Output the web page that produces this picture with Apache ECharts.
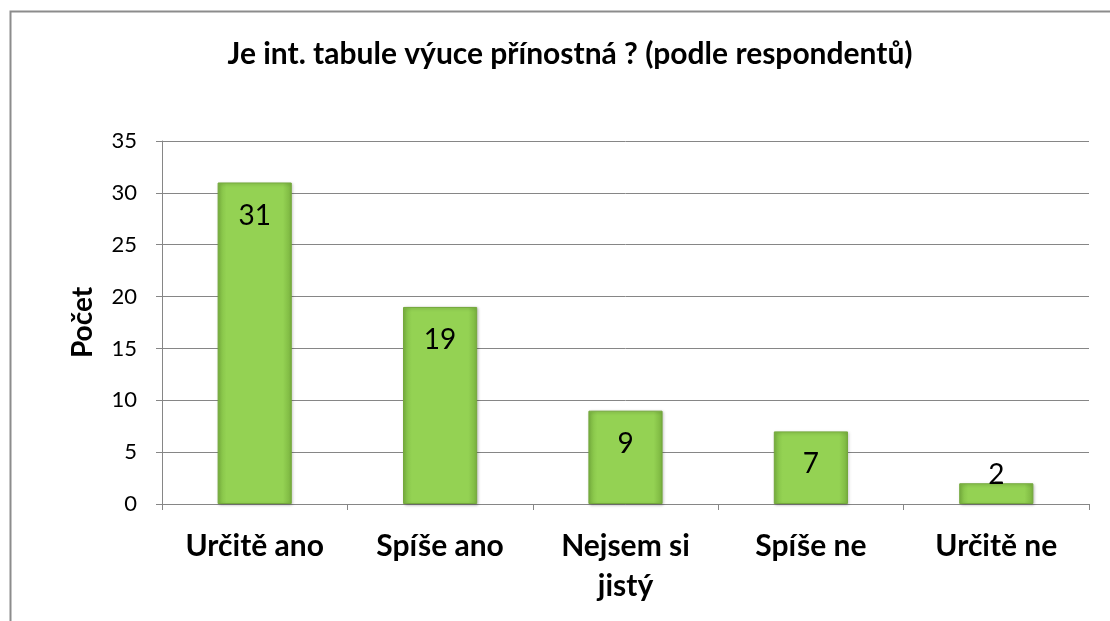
<!DOCTYPE html>
<html>
<head>
<meta charset="utf-8">
<script src="https://cdn.jsdelivr.net/npm/echarts@6/dist/echarts.min.js"></script>
<style>
  html, body { margin: 0; padding: 0; background: #fff; }
  #chart { width: 1110px; height: 621px; }
</style>
</head>
<body>
<div id="chart"></div>
<script>
var categories = ['Určitě ano', 'Spíše ano', 'Nejsem si\njistý', 'Spíše ne', 'Určitě ne'];
var counts = [31, 19, 9, 7, 2];
var yTicks = [0, 5, 10, 15, 20, 25, 30, 35];

var chart = echarts.init(document.getElementById('chart'));

var barColor = new echarts.graphic.LinearGradient(0, 0, 1, 0, [
  { offset: 0, color: '#7fbb43' },
  { offset: 0.12, color: '#94d253' },
  { offset: 0.88, color: '#94d253' },
  { offset: 1, color: '#7ab33f' }
]);

// short bars: put the label just above the bar like Excel does
var barData = counts.map(function (v) {
  if (v < 4) {
    return { value: v, label: { position: 'top', distance: -6 } };
  }
  return v;
});

var option = {
  animation: false,
  textStyle: { fontFamily: 'Lato' },
  title: {
    text: 'Je int. tabule výuce přínostná ? (podle respondentů)',
    left: 565,
    top: 34,
    textAlign: 'center',
    textStyle: { fontFamily: 'Lato', fontSize: 30, fontWeight: 'bold', color: '#000' }
  },
  graphic: [{
    type: 'rect',
    left: 8,
    top: 9,
    shape: { width: 1200, height: 700 },
    style: { fill: 'none', stroke: '#8c8c8c', lineWidth: 2 },
    silent: true
  }],
  grid: { left: 162, right: 21, top: 141, bottom: 117 },
  xAxis: {
    type: 'category',
    data: categories,
    axisLine: { lineStyle: { color: '#868686', width: 1 } },
    axisTick: { show: true, length: 6, lineStyle: { color: '#868686' } },
    axisLabel: {
      margin: 22,
      fontSize: 30,
      fontWeight: 'bold',
      lineHeight: 40,
      color: '#000',
      fontFamily: 'Lato'
    }
  },
  yAxis: {
    type: 'value',
    min: yTicks[0],
    max: yTicks[yTicks.length - 1],
    interval: 5,
    name: 'Počet',
    nameLocation: 'middle',
    nameRotate: 90,
    nameGap: 65,
    nameTextStyle: { fontSize: 28, fontWeight: 'bold', color: '#000', fontFamily: 'Lato' },
    axisLine: { show: true, lineStyle: { color: '#868686' } },
    axisTick: { show: true, length: 6, lineStyle: { color: '#868686' } },
    axisLabel: { margin: 25, fontSize: 22, color: '#000', fontFamily: 'Lato' },
    splitLine: { lineStyle: { color: '#868686', width: 1 } }
  },
  series: [{
    type: 'bar',
    data: barData,
    barCategoryGap: '60%',
    itemStyle: {
      color: barColor,
      borderColor: '#74a83c',
      borderWidth: 1,
      shadowColor: 'rgba(0,0,0,0.25)',
      shadowBlur: 3,
      shadowOffsetX: 1,
      shadowOffsetY: 1
    },
    label: {
      show: true,
      position: 'insideTop',
      distance: 19,
      fontSize: 28,
      color: '#000',
      fontFamily: 'Lato'
    }
  }]
};

chart.setOption(option);
</script>
</body>
</html>
